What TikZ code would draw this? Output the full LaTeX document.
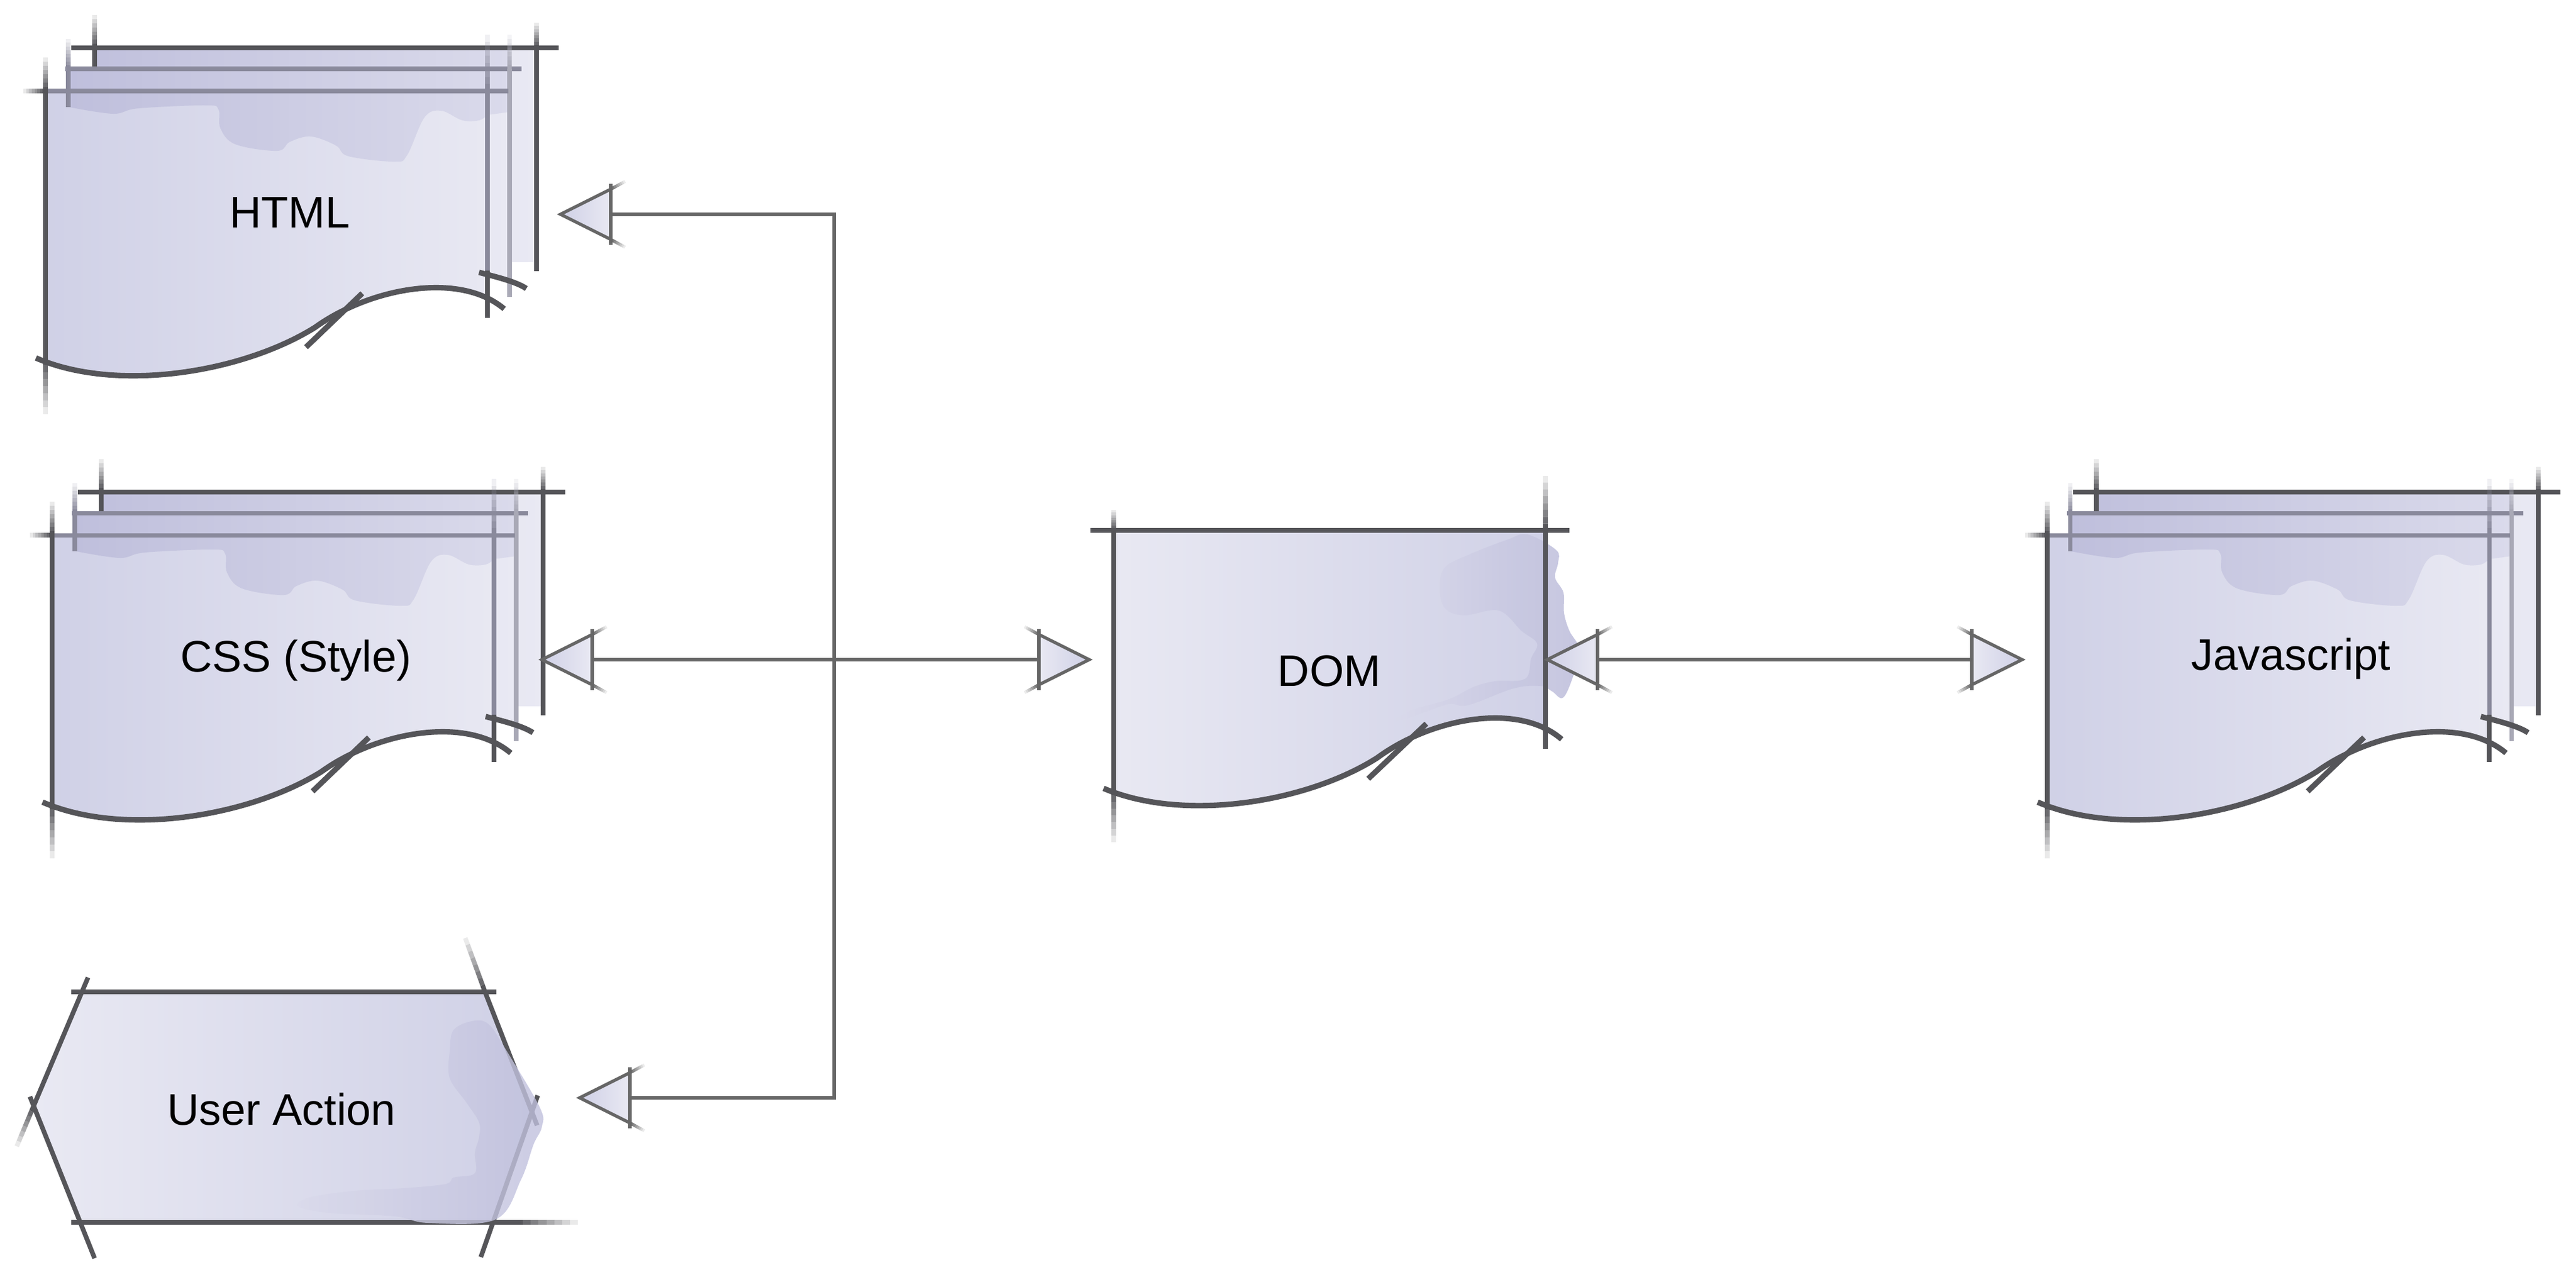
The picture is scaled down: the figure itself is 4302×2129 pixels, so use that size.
\documentclass[tikz,border=0pt]{standalone}
\usepackage{fontspec}
\setmainfont{Liberation Sans}
\usetikzlibrary{calc}

\definecolor{lndark}{HTML}{555559}
\definecolor{lnmid}{HTML}{8A8A9C}
\definecolor{lnlight}{HTML}{A9A9B6}
\definecolor{conngray}{HTML}{666666}
\definecolor{pgdark}{HTML}{CFD0E6}
\definecolor{pglight}{HTML}{E9E9F3}
\definecolor{blobdk}{HTML}{BFBFDC}
\definecolor{bloblt}{HTML}{DADAEB}

\tikzset{
	docline/.style={line width=2.2pt, lndark},
	docmid/.style={line width=2pt, lnmid},
	docwave/.style={line width=2.6pt, lndark},
	link/.style={line width=1.5pt, conngray},
	txt/.style={font=\fontsize{21}{25}\selectfont, inner sep=0pt},
	lefthd/.style={left color=pgdark, middle color=blobdk, right color=pglight},
	righthd/.style={left color=pglight, middle color=blobdk, right color=pgdark}
}

% line that fades out from #1 towards #2
\newcommand\fadeseg[3]{%
	\foreach \k in {0,...,7}{%
		\pgfmathsetmacro\fa{\k/8}\pgfmathsetmacro\fb{(\k+1)/8}\pgfmathsetmacro\fo{1-\k/8}%
		\draw [#3, draw opacity=\fo] ($(#1)!\fa!(#2)$) -- ($(#1)!\fb!(#2)$);}}

% stack of three pages, origin at top left of front page
\newcommand\multidoc[1]{%
	\begin{scope}[shift={(#1)}]
		\shade [left color=pgdark, right color=pglight] (82,-72) rectangle (820,285);
		\shade [left color=pgdark, right color=pglight] (38,-37) -- (775,-37) -- (775,318) .. controls (760,308) and (745,302) .. (724,300) -- (38,300) -- cycle;
		\begin{scope}
			\clip (0,0) rectangle (738,600);
			\shade [left color=pgdark, right color=pglight] (-16,446) .. controls (120,505) and (330,470) .. (450,395) .. controls (540,330) and (690,300) .. (766,364) -- (766,0) -- (-16,0) -- cycle;
		\end{scope}
		\shade [left color=blobdk, right color=bloblt] (82,-72) -- (775,-72) -- (775,35) -- plot[smooth, tension=0.6] coordinates {(738,40) (724,49) (696,49) (661,33) (633,44) (604,107) (583,118) (506,109) (485,91) (443,76) (408,85) (387,100) (317,89) (292,62) (289,31) (268,24) (155,29) (113,38) (40,27)} -- (38,-37) -- (82,-37) -- cycle;
		% back page
		\draw [docline] (43,-72) -- (857,-72);
		\draw [docline] (82,-72) -- (82,-38);
		\fadeseg{82,-72}{82,-127}{docline}
		\draw [docline] (820,-72) -- (820,301);
		\fadeseg{820,-72}{820,-114}{docline}
		% middle page
		\draw [docmid] (33,-37) -- (795,-37);
		\draw [docmid] (38,-37) -- (38,27);
		\fadeseg{38,-37}{38,-87}{docmid}
		\draw [docmid, lnlight] (775,-37) -- (775,344);
		\fadeseg{775,-37}{775,-94}{docmid, lnlight}
		\draw [docwave] (724,303) .. controls (750,310) and (785,318) .. (803,330);
		% front page
		\draw [docmid] (0,0) -- (773,0);
		\fadeseg{0,0}{-37,0}{docline}
		\draw [docline] (0,0) -- (0,446);
		\fadeseg{0,0}{0,-56}{docline}
		\fadeseg{0,446}{0,540}{docline}
		\draw [docmid] (738,0) -- (738,300);
		\draw [docline] (738,300) -- (738,379);
		\fadeseg{738,0}{738,-94}{docmid}
		\draw [docwave] (-16,446) .. controls (120,505) and (330,470) .. (450,395) .. controls (540,330) and (690,300) .. (766,364);
		\draw [docwave] (435,428) -- (529,338);
	\end{scope}}

% arrow head: tip, direction, name of base, shading
\newcommand\arrhead[4]{%
	\begin{scope}[shift={(#1)}, xscale=#2]
		\shade [#4] (0,0) -- (-84,-42) -- (-84,42) -- cycle;
		\draw [link, line join=miter] (-84,-42) -- (0,0) -- (-84,42);
		\fadeseg{-84,-42}{-108,-55}{link}
		\fadeseg{-84,42}{-108,55}{link}
		\draw [link] (-84,-51) -- (-84,51);
		\coordinate (#3) at (-84,0);
	\end{scope}}

\begin{document}
\begin{tikzpicture}[x=0.01cm, y=-0.01cm]
	\useasboundingbox (0,0) rectangle (4302,2129);

	\multidoc{76,152}
	\multidoc{87,894}
	\multidoc{3419,894}

	% DOM page
	\begin{scope}[shift={(1860,886)}]
		\begin{scope}
			\clip (0,0) rectangle (721,600);
			\shade [left color=pglight, right color=pgdark] (-17,431) .. controls (117,488) and (322,455) .. (440,380) .. controls (528,315) and (674,285) .. (748,349) -- (748,0) -- (-17,0) -- cycle;
		\end{scope}
		\shade [left color=bloblt, right color=blobdk, fill opacity=0.9] plot[smooth cycle, tension=0.6] coordinates {(691,7) (739,33) (742,54) (737,79) (751,104) (752,138) (761,168) (777,197) (770,235) (751,279) (732,269) (713,260) (668,264) (592,292) (560,290) (518,304) (464,321) (500,300) (560,282) (600,262) (636,252) (687,248) (697,214) (707,189) (681,168) (643,134) (585,142) (553,130) (544,96) (553,62) (592,41) (656,16)};
		\draw [docline] (-39,0) -- (761,0);
		\draw [docline] (0,0) -- (0,431);
		\fadeseg{0,0}{0,-34}{docline}
		\fadeseg{0,431}{0,521}{docline}
		\draw [docline] (721,0) -- (721,365);
		\fadeseg{721,0}{721,-91}{docline}
		\draw [docwave] (-17,431) .. controls (117,488) and (322,455) .. (440,380) .. controls (528,315) and (674,285) .. (748,349);
		\draw [docwave] (425,415) -- (522,323);
	\end{scope}

	% User Action
	\shade [left color=pglight, right color=pgdark] (137,1657) -- (810,1657) -- (888,1858) -- (823,2042) -- (134,2042) -- (56,1848) -- cycle;
	\draw [docline] (119,1657) -- (829,1657);
	\draw [docline] (119,2042) -- (860,2042);
	\fadeseg{860,2042}{965,2042}{docline}
	\draw [docline] (147,1633) -- (56,1848);
	\fadeseg{56,1848}{28,1915}{docline}
	\draw [docline] (50,1832) -- (158,2102);
	\draw [docline] (810,1657) -- (897,1880);
	\fadeseg{810,1657}{777,1567}{docline}
	\draw [docline] (898,1830) -- (803,2100);
	\shade [left color=bloblt, right color=blobdk, fill opacity=0.8] plot[smooth cycle, tension=0.6] coordinates {(793,1705) (817,1712) (842,1749) (901,1849) (905,1882) (891,1912) (870,1971) (828,2037) (716,2043) (659,2032) (547,2026) (498,2015) (519,2000) (596,1989) (673,1985) (744,1978) (758,1967) (793,1960) (793,1926) (800,1900) (800,1875) (779,1842) (751,1801) (751,1757) (758,1720)};

	% labels
	\node [txt] (html) at (484,355) {HTML};
	\node [txt] (css) at (494,1103) {CSS (Style)};
	\node [txt] (dom) at (2220,1121) {DOM};
	\node [txt] (js) at (3826,1100) {Javascript};
	\node [txt] (user) at (470,1853) {User Action};

	% arrow heads
	\arrhead{936,358}{-1}{htmlhd}{lefthd}
	\arrhead{905,1102}{-1}{csshd}{lefthd}
	\arrhead{968,1834}{-1}{userhd}{lefthd}
	\arrhead{1819,1102}{1}{domin}{righthd}
	\arrhead{2584,1102}{-1}{domout}{lefthd}
	\arrhead{3377,1102}{1}{jshd}{righthd}

	% connectors
	\coordinate (bustop) at (1393,358);
	\coordinate (busbot) at (1393,1834);
	\draw [link] (htmlhd) -- (bustop) -- (busbot) -- (userhd);
	\draw [link] (csshd) -- (domin);
	\draw [link] (domout) -- (jshd);
\end{tikzpicture}
\end{document}
